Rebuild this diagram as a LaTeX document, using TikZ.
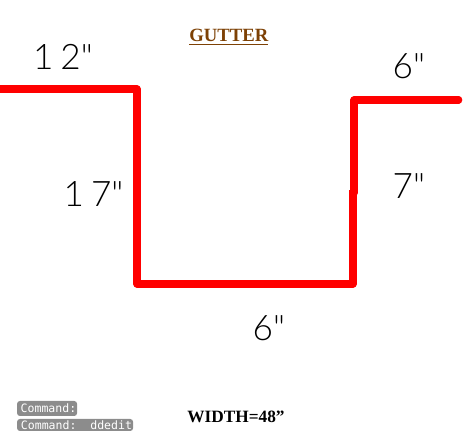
\documentclass[tikz,border=0pt]{standalone}
\usepackage{fontspec}
\setmainfont{Liberation Serif}
\newfontfamily\handfont{Lato Light}
\newfontfamily\cmdfont{DejaVu Sans Mono}
\usetikzlibrary{positioning}
\tikzset{
  gutterline/.style={draw=red,line width=5pt,line join=round},
  handlabel/.style={inner sep=0pt,text=black,font=\handfont\fontsize{25}{25}\selectfont},
  cmdbox/.style={fill=black!45,rounded corners=2pt,text=white,inner sep=0pt,anchor=west,minimum height=0.375cm,font=\cmdfont\fontsize{8.2}{9}\selectfont,align=left},
  titlelabel/.style={inner sep=0pt,font=\bfseries\fontsize{13.3}{13.3}\selectfont}
}
\begin{document}
\begin{tikzpicture}
\useasboundingbox (0,0) rectangle (11.825,10.775);
\clip (0,0) rectangle (11.825,10.775);
\draw[gutterline] (0,8.55) coordinate(A)-- ++(3.425,0)coordinate(B) -- ++(0,-4.875)coordinate(C) -- ++(5.4,0)coordinate(D) -- ++(0,2.35)coordinate(J);
\draw[gutterline,line cap=round] (8.85,5.95) -- ++(0,2.325)coordinate(E) -- ++(2.62,0)coordinate(F);
\node[titlelabel,text={rgb,255:red,125;green,65;blue,5}] (title) at (5.72,9.85) {\underline{GUTTER}};
\node[handlabel] (topleft) at (1.575,9.34) {1\hspace{0.2em}2"};
\node[handlabel] (topright) at (10.22,9.11) {6"};
\node[handlabel] (left) at (2.34,5.925) {1\hspace{0.2em}7"};
\node[handlabel] (right) at (10.22,6.125) {7"};
\node[handlabel] (bottom) at (6.72,2.575) {6"};
\node[titlelabel,font=\bfseries\fontsize{12.3}{12.3}\selectfont] (width) at (5.9,0.36) {WIDTH=48"};
\node[cmdbox,minimum width=1.5cm] (cmdone) at (0.42,0.5625) {\hspace{2pt}Command:};
\node[cmdbox,minimum width=2.9cm,minimum height=0.3cm] (cmdtwo) at (0.42,0.15) {\hspace{2pt}Command:~~ddedit};
\end{tikzpicture}
\end{document}
